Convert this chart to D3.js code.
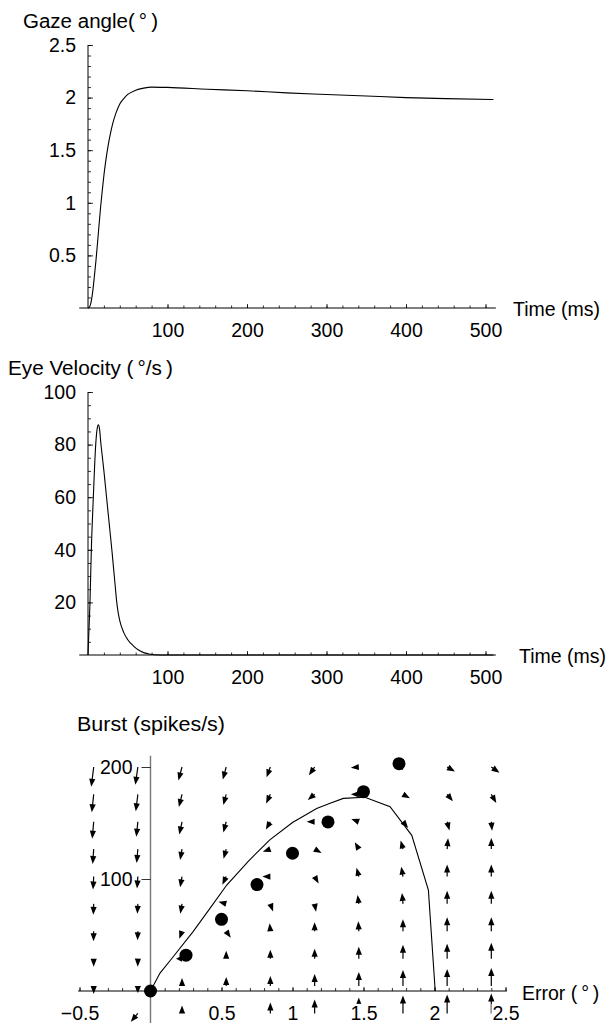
<!DOCTYPE html>
<html><head><meta charset="utf-8">
<script src="https://cdn.jsdelivr.net/npm/d3@7"></script>
<style>
body{margin:0;background:#fff}
text{font-family:"Liberation Sans",Arial,Helvetica,sans-serif;fill:#000}
</style>
</head><body>
<svg id="c" width="615" height="1023"></svg>
<script>
// ---------- data ----------
const gazeTime  = [0,2,4,6,8,10,12,14,16,18,20,22,25,28,31,35,40,45,50,60,70,80,100,150,200,250,300,350,400,450,510];
const gazeAngle = [0,0.01,0.06,0.16,0.30,0.45,0.62,0.80,0.97,1.12,1.26,1.38,1.53,1.65,1.75,1.85,1.94,1.99,2.03,2.07,2.09,2.10,2.097,2.08,2.065,2.045,2.03,2.015,2.0,1.99,1.982];
const velTime  = [0,1,2.5,4.2,6.7,9.7,11.5,13,14.5,16,18,20,22,24,26,28,30,32,34,36,38,40,45,50,57,63,70,78,90,120,200,300,400,510];
const velValue = [0,8,20,40,60,80,86,87.5,86,81,75.5,70,64,58,52,46,40,33.5,27,20.5,16,13,8.5,5.8,3.5,2,0.9,0.3,0,0,0,0,0,0];
const timeTicks = [100,200,300,400,500];
const gazeTicks = [0.5,1,1.5,2,2.5];
const velTicks  = [20,40,60,80,100];

const trajError = [0,0.067,0.15,0.30,0.42,0.537,0.69,0.84,1.0,1.17,1.265,1.358,1.51,1.687,1.84,1.957,2.005];
const trajBurst = [0,16,29,53,74,94.6,116,135,150.5,163,167.6,172,173,164.6,139,90,0];
const dotError = [0,0.25,0.5,0.75,1.0,1.25,1.5,1.75];
const dotBurst = [0,32,64,95,123,151,178,203];
const errorTicks = [-0.5,0.5,1,1.5,2,2.5];
const burstTicks = [100,200];

// vector field grid (columns = error, rows = burst, top to bottom)
const fieldError = [-0.4,-0.089,0.222,0.533,0.844,1.156,1.467,1.778,2.089,2.4];
const fieldBurst = [200,175.6,151.1,126.7,102.2,77.8,53.3,28.9,4.4,-20];
// direction of each arrow, degrees clockwise from "up", one array per column
const fieldAngle = [
  [187,186,185,184,183,182,181,180,180,180],
  [188,187,186,185,184,183,182,181,180,220],
  [195,194,192,190,190,190,200,270,0,0],
  [195,195,195,195,205,285,145,0,0,0],
  [200,205,210,250,270,160,355,0,0,0],
  [215,230,270,120,150,170,0,0,0,0],
  [265,270,290,330,345,352,357,0,0,0],
  [270,120,140,345,350,355,0,0,0,0],
  [120,140,165,5,0,0,0,0,0,0],
  [125,150,175,0,0,0,0,0,0,0]
];
// arrow magnitude (relative units), one array per column
const fieldMag = [
  [20,18,17,15,13,11,10,8,8,8],
  [18,17,15,14,12,10,9,8,7,11],
  [14,13,13,11,11,10,8,6,8,8],
  [13,11,11,10,9,8,8,8,9,10],
  [11,10,9,8,8,8,8,9,10,11],
  [10,9,8,8,8,8,9,10,12,14],
  [8,8,8,8,9,9,10,12,14,16],
  [7,8,8,9,10,11,12,14,16,18],
  [9,9,9,11,12,13,14,15,17,19],
  [10,10,9,11,12,13,14,16,18,20]
];

// ---------- drawing ----------
const svg = d3.select("#c");
const FS = 19.5;

function timePanel(opt){
  const x = d3.scaleLinear().domain([0,500]).range([88,485.5]);
  const y = d3.scaleLinear().domain(opt.ydom).range([opt.y0, opt.ytop]);
  const g = svg.append("g");
  g.append("line").attr("x1",x(-11)).attr("x2",x(513)).attr("y1",y(0)).attr("y2",y(0)).attr("stroke","#000").attr("stroke-width",1);
  g.append("line").attr("x1",x(0)).attr("x2",x(0)).attr("y1",y(0)).attr("y2",y(opt.ydom[1])).attr("stroke","#000").attr("stroke-width",1);
  const xa = g.append("g").attr("transform",`translate(0,${y(0)})`);
  xa.call(d3.axisBottom(x).tickValues(d3.range(20,501,20)).tickSize(-2.5).tickSizeOuter(0).tickFormat(""));
  xa.append("g").call(d3.axisBottom(x).tickValues(timeTicks).tickSize(-4).tickSizeOuter(0).tickPadding(15.5).tickFormat(d3.format("d")));
  const ya = g.append("g").attr("transform",`translate(${x(0)},0)`);
  ya.call(d3.axisLeft(y).tickValues(d3.range(opt.minor, opt.ydom[1]+1e-9, opt.minor)).tickSize(-3).tickSizeOuter(0).tickFormat(""));
  ya.append("g").call(d3.axisLeft(y).tickValues(opt.ticks).tickSize(-5).tickSizeOuter(0).tickPadding(12).tickFormat(opt.fmt));
  g.selectAll(".domain").remove();
  g.selectAll(".tick line").attr("stroke","#000").attr("stroke-width",0.8);
  g.selectAll(".tick text").attr("font-size",FS).attr("font-family",'"Liberation Sans",Arial,sans-serif').attr("fill","#000");
  const line = d3.line().x((d,i)=>x(opt.t[i])).y(d=>y(d)).curve(d3.curveMonotoneX);
  g.append("path").datum(opt.v).attr("d",line).attr("fill","none").attr("stroke","#000").attr("stroke-width",1.1);
  g.append("text").attr("x",opt.xlabX).attr("y",opt.xlabY).attr("font-size",FS).text("Time (ms)");
  g.append("text").attr("x",opt.titleX).attr("y",opt.titleY).attr("font-size",FS)
    .attr("textLength",opt.titleW).attr("lengthAdjust","spacingAndGlyphs").text(opt.title);
}

timePanel({ydom:[0,2.5], y0:308, ytop:45, ticks:gazeTicks, minor:0.1, fmt:d3.format("~g"),
  t:gazeTime, v:gazeAngle, xlabX:513, xlabY:316, titleX:23, titleY:28, titleW:135, title:"Gaze angle(\u2009°\u2009)"});
timePanel({ydom:[0,100], y0:655, ytop:392, ticks:velTicks, minor:5, fmt:d3.format("d"),
  t:velTime, v:velValue, xlabX:519, xlabY:663, titleX:8, titleY:375, titleW:165, title:"Eye Velocity (\u2009°/s\u2009)"});

// ---------- phase plane ----------
const xB = d3.scaleLinear().domain([0,2.5]).range([150.5,505.5]);
const yB = d3.scaleLinear().domain([0,200]).range([991,767]);
const pg = svg.append("g");
const magScale = d3.scaleLinear().domain([0,20]).range([0,20]);

const ag = pg.append("g");
fieldError.forEach((e,i)=>{
  fieldBurst.forEach((b,j)=>{
    const L = magScale(fieldMag[i][j]);
    if(!(L>0)) return;
    const th = fieldAngle[i][j]*Math.PI/180;
    const ux = Math.sin(th), uy = -Math.cos(th);
    const x0 = xB(e), y0 = yB(b);
    const x1 = x0+ux*L, y1 = y0+uy*L;
    const h = Math.min(8,L), w = 3.1;
    const bx = x1-ux*h, by = y1-uy*h;
    if(L > h+0.5){
      ag.append("line").attr("x1",x0).attr("y1",y0).attr("x2",bx+ux*1).attr("y2",by+uy*1)
        .attr("stroke","#000").attr("stroke-width",1.2);
    }
    const px = -uy, py = ux;
    ag.append("polygon").attr("points",
      `${x1},${y1} ${bx+px*w},${by+py*w} ${bx-px*w},${by-py*w}`).attr("fill","#000");
  });
});

pg.append("line").attr("x1",xB(-0.51)).attr("x2",xB(2.51)).attr("y1",yB(0)).attr("y2",yB(0)).attr("stroke","#000").attr("stroke-width",1);
pg.append("line").attr("x1",xB(0)).attr("x2",xB(0)).attr("y1",yB(210)).attr("y2",yB(-30)).attr("stroke","#777").attr("stroke-width",1.4);
const bxa = pg.append("g").attr("transform",`translate(0,${yB(0)})`);
bxa.call(d3.axisBottom(xB).tickValues(d3.range(-5,26).map(d=>d/10)).tickSize(-3).tickSizeOuter(0).tickFormat(""));
const bxl = bxa.append("g").call(d3.axisBottom(xB).tickValues(errorTicks).tickSize(-4).tickSizeOuter(0).tickPadding(15).tickFormat(d3.format("~g")));
const bya = pg.append("g").attr("transform",`translate(${xB(0)},0)`);
bya.call(d3.axisLeft(yB).tickValues(burstTicks).tickSize(9).tickSizeOuter(0).tickPadding(9).tickFormat(d3.format("d")));
pg.selectAll(".domain").remove();
pg.selectAll(".tick line").attr("stroke","#000").attr("stroke-width",0.8);
pg.selectAll(".tick text").attr("font-size",FS).attr("font-family",'"Liberation Sans",Arial,sans-serif').attr("fill","#000");
bxl.selectAll(".tick").each(function(){
  const t = d3.select(this).select("text");
  const bb = t.node().getBBox();
  d3.select(this).insert("rect","text").attr("x",bb.x-1).attr("y",bb.y+2).attr("width",bb.width+2).attr("height",bb.height-3).attr("fill","#fff");
});

const tline = d3.line().x((d,i)=>xB(trajError[i])).y(d=>yB(d));
pg.append("path").datum(trajBurst).attr("d",tline).attr("fill","none").attr("stroke","#000").attr("stroke-width",1.1);
pg.selectAll("circle").data(dotError).join("circle")
  .attr("cx",d=>xB(d)).attr("cy",(d,i)=>yB(dotBurst[i])).attr("r",6.5).attr("fill","#000");

pg.append("text").attr("x",77).attr("y",731).attr("font-size",FS)
  .attr("textLength",148).attr("lengthAdjust","spacingAndGlyphs").text("Burst (spikes/s)");
pg.append("text").attr("x",522).attr("y",1000).attr("font-size",FS).text("Error (\u2009°\u2009)");
</script>
</body></html>
